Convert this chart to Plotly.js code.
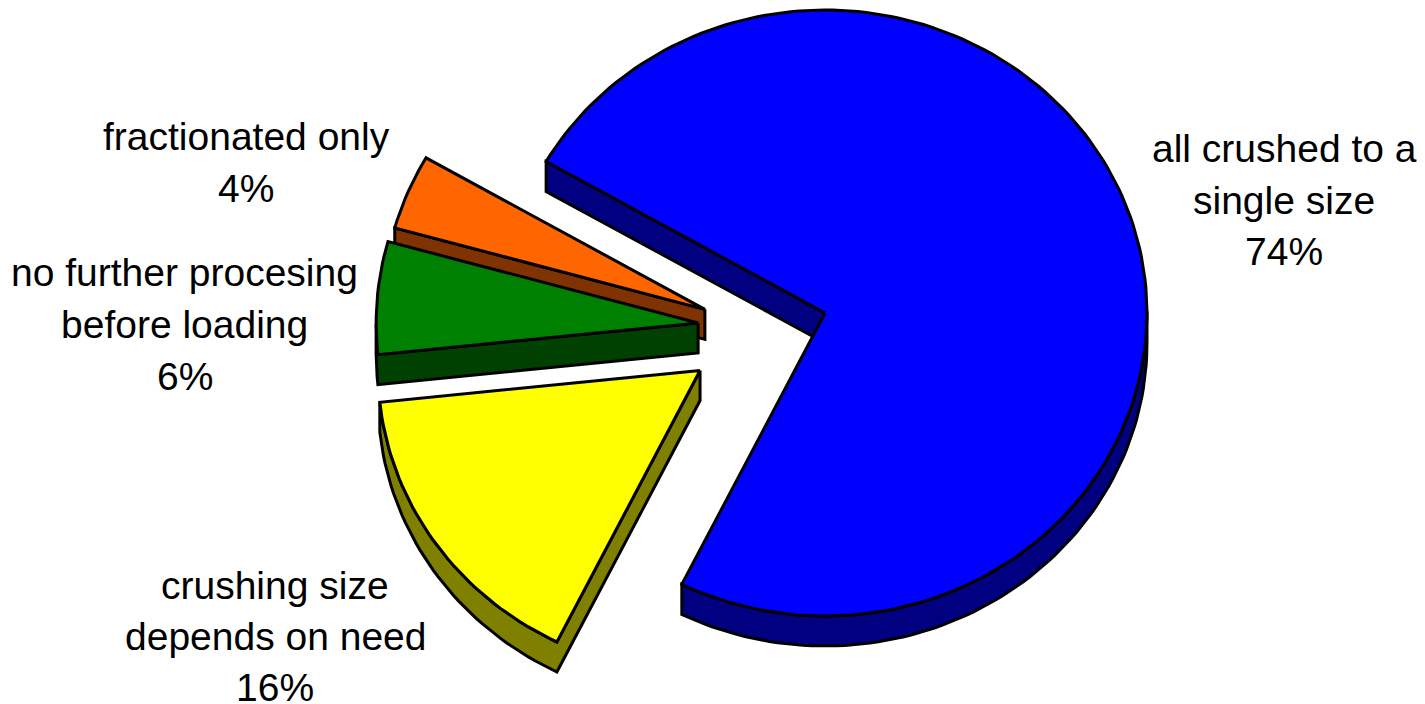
<!DOCTYPE html>
<html>
<head>
<meta charset="utf-8">
<script src="https://cdn.plot.ly/plotly-3.0.1.min.js"></script>
<style>html,body{margin:0;padding:0;background:#fff}#chart{width:1425px;height:704px}</style>
</head>
<body>
<div id="chart"></div>
<script>
// Ways aggregate is processed, clockwise from the first slice
const categories = ['all crushed to a single size', 'crushing size depends on need', 'no further procesing before loading', 'fractionated only'];
const shares = [74, 16, 6, 4];

// Slice appearance, in the same order as the categories
const topColors = ['#0000ff', '#ffff00', '#008000', '#ff6600'];
const wallColors = ['#000080', '#808000', '#004000', '#803300'];

// Exploded offset of each slice, in units of the pie radius
const explodeX = [0, -0.388, -0.394, -0.373];
const explodeY = [0, -0.190, -0.033, 0.012];

// Label lines and their centres on the page, in pixels
const labelLines = [
  ['all crushed to a', 'single size', '74%'],
  ['crushing size', 'depends on need', '16%'],
  ['no further procesing', 'before loading', '6%'],
  ['fractionated only', '4%']
];
const labelX = [1284, 275, 185, 246];
const labelY = [[148.5, 200, 251.5], [585, 636, 687], [273, 324, 376], [136.5, 188]];

const width = 1425, height = 704;
const centerPx = [825, 313], radiusPx = [322, 303];
const firstAngle = -60, depth = 30 / radiusPx[1], arcStep = 1.5;

function sliceOutline(from, sweep, ox, oy) {
  const pts = [[ox, oy]];
  const n = Math.ceil(sweep / arcStep);
  for (let i = 0; i <= n; i++) {
    const t = (from + sweep * i / n) * Math.PI / 180;
    pts.push([ox + Math.sin(t), oy + Math.cos(t)]);
  }
  return pts;
}

// Side walls: every outline run heading left while going clockwise faces the viewer
function wallRuns(outline) {
  const runs = [];
  let run = null;
  for (let i = 0; i < outline.length; i++) {
    const a = outline[i], b = outline[(i + 1) % outline.length];
    if (b[0] < a[0] - 1e-9) {
      if (!run) run = [a];
      run.push(b);
    } else if (run) { runs.push(run); run = null; }
  }
  if (run) runs.push(run);
  return runs;
}

const total = shares.reduce((s, v) => s + v, 0);
const slices = [];
let angle = firstAngle;
shares.forEach((v, i) => {
  const sweep = v / total * 360;
  slices.push({ i, outline: sliceOutline(angle, sweep, explodeX[i], explodeY[i]) });
  angle += sweep;
});

const traces = [];
// The slices overlap on the left, so paint from the back of the stack forward
[3, 2, 1, 0].forEach(i => {
  const s = slices.find(d => d.i === i);
  wallRuns(s.outline).forEach(run => {
    const poly = run.concat(run.slice().reverse().map(p => [p[0], p[1] - depth]));
    poly.push(run[0]);
    traces.push({
      type: 'scatter', mode: 'lines', fill: 'toself', hoverinfo: 'skip', showlegend: false,
      x: poly.map(p => p[0]), y: poly.map(p => p[1]),
      fillcolor: wallColors[i], line: { color: '#000', width: 3 }
    });
  });
  const closed = s.outline.concat([s.outline[0]]);
  traces.push({
    type: 'scatter', mode: 'lines', fill: 'toself', showlegend: false,
    name: categories[i], text: shares[i] + '%', hoverinfo: 'name+text',
    x: closed.map(p => p[0]), y: closed.map(p => p[1]),
    fillcolor: topColors[i], line: { color: '#000', width: 3 }
  });
});

const annotations = [];
labelLines.forEach((lines, i) => lines.forEach((text, j) => annotations.push({
  text, xref: 'paper', yref: 'paper', showarrow: false,
  x: labelX[i] / width, y: 1 - labelY[i][j] / height,
  xanchor: 'center', yanchor: 'middle',
  font: { family: 'Liberation Sans, Arial, sans-serif', size: 39, color: '#000' }
})));

Plotly.newPlot('chart', traces, {
  width, height, margin: { l: 0, r: 0, t: 0, b: 0 }, showlegend: false,
  paper_bgcolor: '#fff', plot_bgcolor: '#fff', annotations,
  xaxis: { visible: false, range: [-centerPx[0] / radiusPx[0], (width - centerPx[0]) / radiusPx[0]] },
  yaxis: { visible: false, range: [(centerPx[1] - height) / radiusPx[1], centerPx[1] / radiusPx[1]] }
}, { staticPlot: true });
</script>
</body>
</html>
